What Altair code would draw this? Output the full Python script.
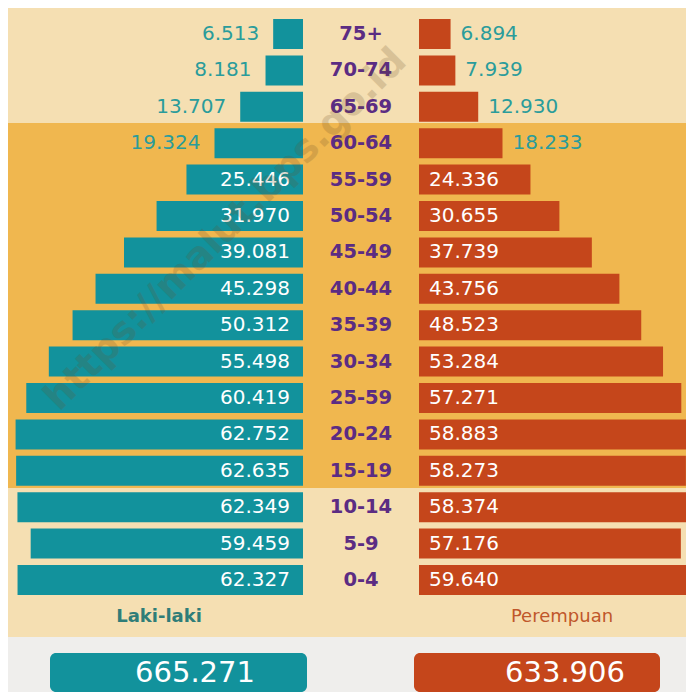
import altair as alt
import pandas as pd

# ---- data (thousands of people) ----
ages = ["75+", "70-74", "65-69", "60-64", "55-59", "50-54", "45-49", "40-44",
        "35-39", "30-34", "25-59", "20-24", "15-19", "10-14", "5-9", "0-4"]
male = [6.513, 8.181, 13.707, 19.324, 25.446, 31.970, 39.081, 45.298,
        50.312, 55.498, 60.419, 62.752, 62.635, 62.349, 59.459, 62.327]
female = [6.894, 7.939, 12.930, 18.233, 24.336, 30.655, 37.739, 43.756,
          48.523, 53.284, 57.271, 58.883, 58.273, 58.374, 57.176, 59.640]
sex_labels = ["Laki-laki", "Perempuan"]
watermark = "https://malut.bps.go.id"

# ---- layout / style ----
W, H = 678, 684
PX_PER_K = 4.58
CENTER = 353
GAP = 58 / PX_PER_K
ROW_STEP = 36.4
FIRST = 26
HALF_BAR = 15 / ROW_STEP
FONT = "DejaVu Sans"

TEAL = "#12929c"
ORANGE = "#c5461b"
PURPLE = "#5b2c83"
LIGHT_BG = "#f5dfb2"
BAND = "#f0b74f"
BOTTOM_BG = "#efeeec"
OUT_TEAL = "#2a9c9b"
LAKI = "#2f7d78"
PEREMPUAN = "#c0572b"

x_dom = [-CENTER / PX_PER_K, (W - CENTER) / PX_PER_K]
y_dom = [-FIRST / ROW_STEP, (H - FIRST) / ROW_STEP]
xs = alt.Scale(domain=x_dom, nice=False, zero=False)
ys = alt.Scale(domain=y_dom, reverse=True, nice=False, zero=False)


def X(f):
    return alt.X(f"{f}:Q", scale=xs, axis=None)


def Y(f):
    return alt.Y(f"{f}:Q", scale=ys, axis=None)


df = pd.DataFrame({"age": ages, "male": male, "female": female,
                   "row": list(range(len(ages)))})

base = alt.Chart(df).transform_calculate(
    y1=f"datum.row - {HALF_BAR}",
    y2=f"datum.row + {HALF_BAR}",
    yc="datum.row",
    lx1=f"{-GAP}",
    lx2=f"{-GAP} - datum.male",
    rx1=f"{GAP}",
    rx2=f"{GAP} + datum.female",
    cx="0",
)

one = alt.Chart(pd.DataFrame({"k": [0]}))

band = one.mark_rect(color=BAND).encode(
    x=alt.value(0), x2=alt.value(W), y=alt.value(115), y2=alt.value(480))
bottom = one.mark_rect(color=BOTTOM_BG).encode(
    x=alt.value(0), x2=alt.value(W), y=alt.value(629), y2=alt.value(H))

left_bars = base.mark_rect(color=TEAL).encode(
    x=X("lx2"), x2="lx1:Q", y=Y("y1"), y2="y2:Q")
right_bars = base.mark_rect(color=ORANGE).encode(
    x=X("rx1"), x2="rx2:Q", y=Y("y1"), y2="y2:Q")

val_font = dict(font=FONT, fontSize=20, baseline="middle")

left_in = base.transform_filter("datum.male >= 20").mark_text(
    align="right", dx=-13, color="white", **val_font).encode(
    x=X("lx1"), y=Y("yc"), text=alt.Text("male:Q", format=".3f"))
left_out = base.transform_filter("datum.male < 20").mark_text(
    align="right", dx=-14, color=OUT_TEAL, **val_font).encode(
    x=X("lx2"), y=Y("yc"), text=alt.Text("male:Q", format=".3f"))
right_in = base.transform_filter("datum.female >= 20").mark_text(
    align="left", dx=10, color="white", **val_font).encode(
    x=X("rx1"), y=Y("yc"), text=alt.Text("female:Q", format=".3f"))
right_out = base.transform_filter("datum.female < 20").mark_text(
    align="left", dx=10, color=OUT_TEAL, **val_font).encode(
    x=X("rx2"), y=Y("yc"), text=alt.Text("female:Q", format=".3f"))

age_text = base.mark_text(
    align="center", baseline="middle", font=FONT, fontSize=19.5,
    fontWeight="bold", color=PURPLE).encode(
    x=X("cx"), y=Y("yc"), text="age:N")

sex_df = pd.DataFrame({"sex": sex_labels})
laki = alt.Chart(sex_df).transform_filter(f"datum.sex == '{sex_labels[0]}'").mark_text(
    font=FONT, fontSize=18, fontWeight="bold", color=LAKI,
    align="center", baseline="middle").encode(
    x=alt.value(151), y=alt.value(609), text="sex:N")
perem = alt.Chart(sex_df).transform_filter(f"datum.sex == '{sex_labels[1]}'").mark_text(
    font=FONT, fontSize=18, color=PEREMPUAN,
    align="center", baseline="middle").encode(
    x=alt.value(554), y=alt.value(609), text="sex:N")

box_l = one.mark_rect(color=TEAL, cornerRadius=6).encode(
    x=alt.value(42), x2=alt.value(299), y=alt.value(645), y2=alt.value(684))
box_r = one.mark_rect(color=ORANGE, cornerRadius=6).encode(
    x=alt.value(406), x2=alt.value(652), y=alt.value(645), y2=alt.value(684))

tot_font = dict(font=FONT, fontSize=29, color="white", align="center",
                baseline="middle")
tot_l = alt.Chart(df).transform_aggregate(total_m="sum(male)").mark_text(
    **tot_font).encode(x=alt.value(187), y=alt.value(665),
                       text=alt.Text("total_m:Q", format=".3f"))
tot_r = alt.Chart(df).transform_aggregate(total_f="sum(female)").mark_text(
    **tot_font).encode(x=alt.value(557), y=alt.value(665),
                       text=alt.Text("total_f:Q", format=".3f"))

wm = alt.Chart(pd.DataFrame({"t": [watermark]})).mark_text(
    font=FONT, fontSize=38, fontWeight="bold", angle=315, color="#6b4f2a",
    opacity=0.2, align="center", baseline="middle").encode(
    x=alt.value(218), y=alt.value(222), text="t:N")

chart = alt.layer(
    band, bottom, left_bars, right_bars, left_in, left_out, right_in,
    right_out, age_text, laki, perem, box_l, box_r, tot_l, tot_r, wm
).properties(
    width=W, height=H, padding=0, background=LIGHT_BG,
    autosize=alt.AutoSizeParams(type="none"),
).configure_view(stroke=None)

chart.save("out.html", embed_options={"renderer": "svg", "actions": False})
